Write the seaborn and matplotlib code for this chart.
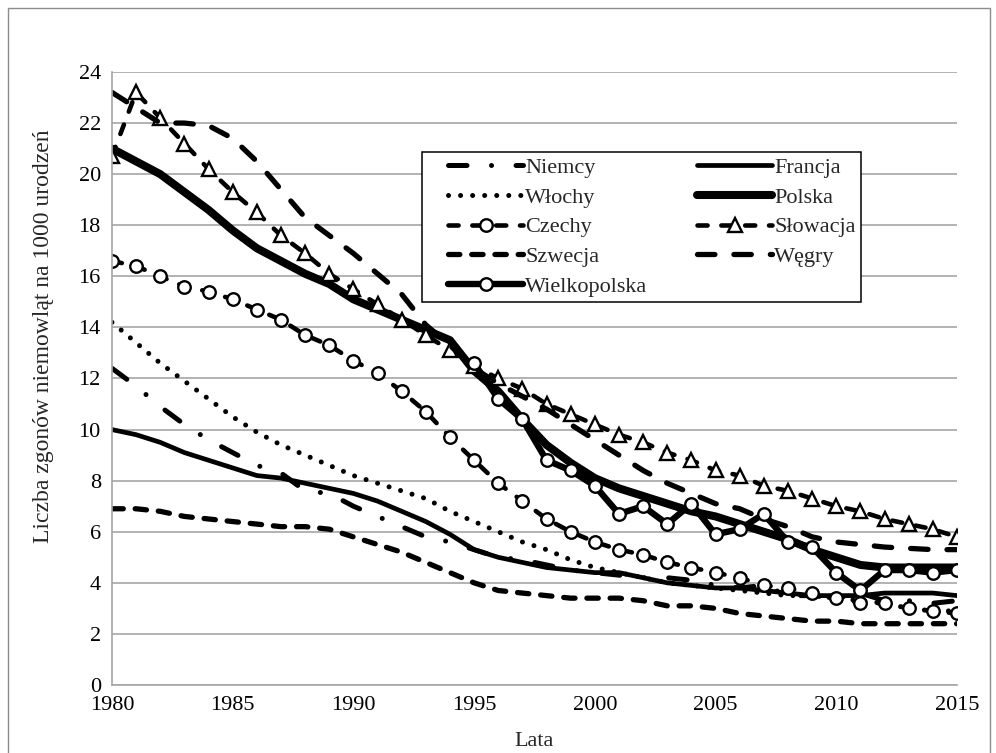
import matplotlib
matplotlib.use("Agg")
import numpy as np
import pandas as pd
import matplotlib.pyplot as plt
import seaborn as sns
from matplotlib.patches import Rectangle
from matplotlib.lines import Line2D
from matplotlib.legend_handler import HandlerLine2D

# ---- dane (umieralność niemowląt na 1000 urodzeń) ----
lata = list(range(1980, 2016))
lata_wlkp = list(range(1995, 2016))

niemcy = [12.4, 11.7, 10.9, 10.2, 9.6, 9.1, 8.6, 8.3, 7.6, 7.5, 7.0, 6.6, 6.2, 5.8, 5.6, 5.3, 5.0, 4.9,
          4.7, 4.5, 4.4, 4.3, 4.2, 4.2, 4.1, 3.9, 3.8, 3.9, 3.5, 3.5, 3.4, 3.6, 3.3, 3.3, 3.2, 3.3]
francja = [10.0, 9.8, 9.5, 9.1, 8.8, 8.5, 8.2, 8.1, 7.9, 7.7, 7.5, 7.2, 6.8, 6.4, 5.9, 5.3, 5.0, 4.8,
           4.6, 4.5, 4.4, 4.4, 4.2, 4.0, 3.9, 3.8, 3.8, 3.7, 3.6, 3.5, 3.5, 3.5, 3.6, 3.6, 3.6, 3.5]
wlochy = [14.2, 13.4, 12.6, 11.9, 11.2, 10.5, 9.9, 9.4, 9.0, 8.6, 8.2, 7.9, 7.6, 7.3, 6.8, 6.4, 6.0, 5.6,
          5.3, 4.9, 4.6, 4.4, 4.2, 4.0, 3.9, 3.8, 3.7, 3.6, 3.5, 3.5, 3.4, 3.3, 3.2, 3.0, 2.9, 2.9]
polska = [21.0, 20.5, 20.0, 19.3, 18.6, 17.8, 17.1, 16.6, 16.1, 15.7, 15.1, 14.7, 14.3, 13.9, 13.5, 12.3,
          11.5, 10.4, 9.4, 8.7, 8.1, 7.7, 7.4, 7.1, 6.8, 6.6, 6.3, 6.0, 5.7, 5.3, 5.0, 4.7, 4.6, 4.6, 4.6, 4.6]
czechy = [16.6, 16.4, 16.0, 15.6, 15.4, 15.1, 14.7, 14.3, 13.7, 13.3, 12.7, 12.2, 11.5, 10.7, 9.7, 8.8,
          7.9, 7.2, 6.5, 6.0, 5.6, 5.3, 5.1, 4.8, 4.6, 4.4, 4.2, 3.9, 3.8, 3.6, 3.4, 3.2, 3.2, 3.0, 2.9, 2.8]
slowacja = [20.7, 23.2, 22.2, 21.2, 20.2, 19.3, 18.5, 17.6, 16.9, 16.1, 15.5, 14.9, 14.3, 13.7, 13.1, 12.5,
            12.0, 11.6, 11.0, 10.6, 10.2, 9.8, 9.5, 9.1, 8.8, 8.4, 8.2, 7.8, 7.6, 7.3, 7.0, 6.8, 6.5, 6.3, 6.1, 5.8]
szwecja = [6.9, 6.9, 6.8, 6.6, 6.5, 6.4, 6.3, 6.2, 6.2, 6.1, 5.8, 5.5, 5.2, 4.8, 4.4, 4.0, 3.7, 3.6,
           3.5, 3.4, 3.4, 3.4, 3.3, 3.1, 3.1, 3.0, 2.8, 2.7, 2.6, 2.5, 2.5, 2.4, 2.4, 2.4, 2.4, 2.4]
wegry = [23.2, 22.6, 22.0, 22.0, 21.9, 21.4, 20.5, 19.4, 18.3, 17.6, 16.9, 16.1, 15.3, 14.1, 13.3, 12.4,
         11.8, 11.3, 10.8, 10.2, 9.6, 9.0, 8.4, 7.9, 7.5, 7.1, 6.9, 6.5, 6.2, 5.8, 5.6, 5.5, 5.4, 5.35, 5.3, 5.3]
wielkopolska = [12.6, 11.2, 10.4, 8.8, 8.4, 7.8, 6.7, 7.0, 6.3, 7.1, 5.9, 6.1, 6.7, 5.6, 5.4, 4.4, 3.7,
                4.5, 4.5, 4.4, 4.5]

# ---- styl ----
sns.set_theme(style="white")
plt.rcParams['font.family'] = ['Liberation Serif', 'DejaVu Serif']
FS = 16
SZARY = '#a6a6a6'

fig = plt.figure(figsize=(9.96, 7.53), dpi=100)
ax = fig.add_axes([0.1124, 0.0903, 0.8484, 0.8141])

wspolne = dict(color='black', estimator=None, sort=False, errorbar=None,
               dash_capstyle='round', solid_capstyle='round', solid_joinstyle='round')
kolko = dict(marker='o', markersize=9, markerfacecolor='white', markeredgecolor='black',
             markeredgewidth=1.7)

serie = [
    ('Niemcy', lata, niemcy, dict(lw=3.6, linestyle=(0, (3.7, 4.9, 0.01, 4.9)))),
    ('Francja', lata, francja, dict(lw=3.4)),
    ('Włochy', lata, wlochy, dict(lw=3.6, linestyle=(0, (0.01, 2.4)))),
    ('Polska', lata, polska, dict(lw=5.8)),
    ('Czechy', lata, czechy, dict(lw=3.3, linestyle=(0, (2.2, 3.0)), **kolko)),
    ('Słowacja', lata, slowacja, dict(lw=3.3, linestyle=(0, (2.2, 3.0)), marker='^', markersize=9.5,
                                      markerfacecolor='white', markeredgecolor='black',
                                      markeredgewidth=1.7)),
    ('Szwecja', lata, szwecja, dict(lw=3.8, linestyle=(0, (2.15, 2.25)))),
    ('Węgry', lata, wegry, dict(lw=3.8, linestyle=(0, (3.3, 3.6)))),
    ('Wielkopolska', lata_wlkp, wielkopolska, dict(lw=4.6, **kolko)),
]

linie = {}
for nazwa, x, y, st in serie:
    df = pd.DataFrame({'rok': x, 'wartosc': y})
    sns.lineplot(data=df, x='rok', y='wartosc', ax=ax, label=nazwa, **wspolne, **st)
    linie[nazwa] = ax.get_lines()[-1]

ax.set_xlim(1980, 2015)
ax.set_ylim(0, 24)
ax.set_xticks(range(1980, 2016, 5))
ax.set_yticks(range(0, 25, 2))
ax.yaxis.grid(True, color=SZARY, lw=1.2)
ax.xaxis.grid(False)
for s in ['top', 'right']:
    ax.spines[s].set_visible(False)
for s in ['left', 'bottom']:
    ax.spines[s].set_color(SZARY)
    ax.spines[s].set_linewidth(1.2)
ax.tick_params(axis='both', direction='out', length=5, width=1.2, color=SZARY,
               labelsize=FS, labelcolor='black', pad=3)
ax.set_xlabel('Lata', fontsize=FS, labelpad=12)
ax.set_ylabel('Liczba zgonów niemowląt na 1000 urodzeń', fontsize=17)
ax.yaxis.set_label_coords(-0.069, 0.569)

kolejnosc = ['Niemcy', 'Włochy', 'Czechy', 'Szwecja', 'Wielkopolska',
             'Francja', 'Polska', 'Słowacja', 'Węgry']
leg = ax.legend([linie[k] for k in kolejnosc], kolejnosc, ncol=2, loc='upper left',
                bbox_to_anchor=(0.367, 0.8695), borderaxespad=0, fontsize=FS,
                handlelength=4.3, handletextpad=0.1, columnspacing=1.3,
                labelspacing=0.41, borderpad=0.25, fancybox=False, framealpha=1,
                handler_map={Line2D: HandlerLine2D(xpad=0.92)})
leg.get_frame().set_edgecolor('black')
leg.get_frame().set_linewidth(1.1)

fig.add_artist(Rectangle((0.008, -0.02), 0.986, 1.009, transform=fig.transFigure,
                         fill=False, edgecolor='#8c8c8c', lw=1))

fig.savefig('out.png', dpi=100, facecolor='white')
